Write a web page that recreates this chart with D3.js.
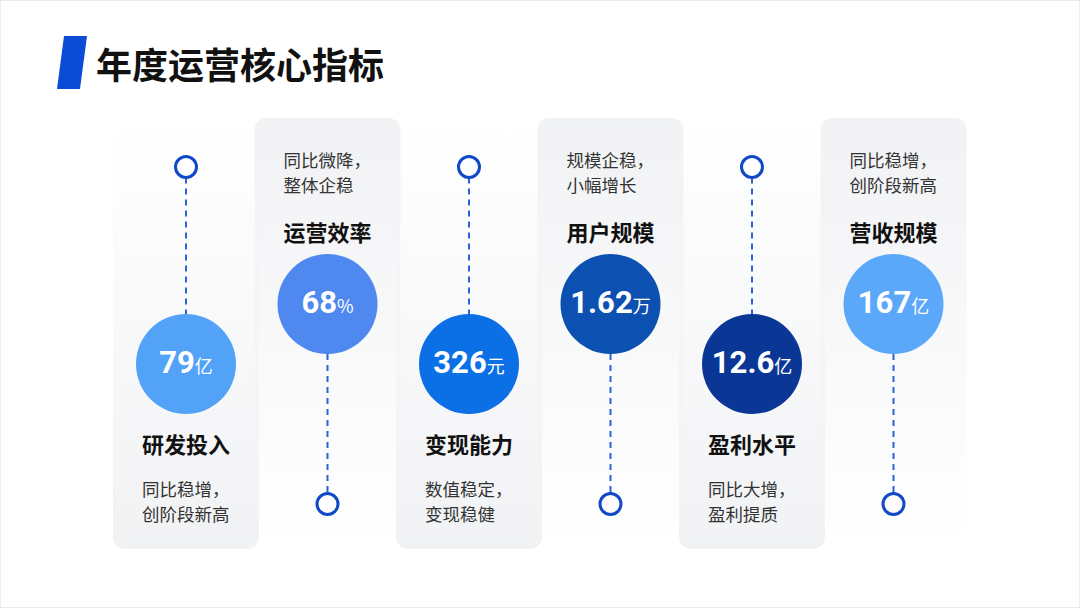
<!DOCTYPE html>
<html>

<head>
    <meta charset="utf-8">
    <title>年度运营核心指标</title>
    <script src="https://cdn.jsdelivr.net/npm/d3@7/dist/d3.min.js"></script>
    <style>
        body { margin: 0; background: #fff; }
        svg { display: block; font-family: "Noto Sans CJK SC", "Noto Sans", sans-serif; }
    </style>
</head>

<body>
    <svg width="1080" height="608" id="mainsvg"></svg>
    <script>
        // ---- data ----
        const names = ['研发投入', '运营效率', '变现能力', '用户规模', '盈利水平', '营收规模'];
        const values = ['79', '68', '326', '1.62', '12.6', '167'];
        const units = ['亿', '%', '元', '万', '亿', '亿'];
        const notes = [
            ['同比稳增，', '创阶段新高'],
            ['同比微降，', '整体企稳'],
            ['数值稳定，', '变现稳健'],
            ['规模企稳，', '小幅增长'],
            ['同比大增，', '盈利提质'],
            ['同比稳增，', '创阶段新高']
        ];

        const svg = d3.select('svg');
        const width = +svg.attr('width');
        const height = +svg.attr('height');

        const palette = ['#52a2f8', '#4f88ef', '#0b6fe6', '#0c50b1', '#0a3796', '#5ba8fa'];
        const color = d3.scaleOrdinal().domain(names).range(palette);
        const xScale = d3.scalePoint().domain(names).range([186, 893.5]);

        const cardW = 146, cardTop = 118, cardBottom = 549;
        const r = 50, ringR = 10.5;
        const lineColor = '#2c62d8';

        // two vertical arrangements: circle low (even index) / circle high (odd index)
        const layout = [
            { ring: 167, cy: 364, name: 443, note: 488 },
            { ring: 504, cy: 304, name: 231, note: 159 }
        ];

        const defs = svg.append('defs');
        [['cardUp', 0, 1], ['cardDown', 1, 0]].forEach(([id, o0, o1]) => {
            const g = defs.append('linearGradient').attr('id', id)
                .attr('x1', 0).attr('y1', 0).attr('x2', 0).attr('y2', 1);
            g.append('stop').attr('offset', '0%').attr('stop-color', '#f1f2f4').attr('stop-opacity', o0);
            g.append('stop').attr('offset', '100%').attr('stop-color', '#f1f2f4').attr('stop-opacity', o1);
        });

        svg.append('rect')
            .attr('x', 0.5).attr('y', 0.5)
            .attr('width', width - 1).attr('height', height - 1)
            .attr('fill', '#fff').attr('stroke', '#ececec');

        // title
        svg.append('polygon')
            .attr('points', '64,36 87,36 80,89 57,89')
            .attr('fill', '#0a4cd6');
        svg.append('text')
            .attr('x', 96).attr('y', 63)
            .attr('dominant-baseline', 'central')
            .attr('font-size', 36).attr('font-weight', 'bold')
            .attr('fill', '#111')
            .text('年度运营核心指标');

        const items = names.map((n, i) => ({ name: n, value: values[i], unit: units[i], note: notes[i], i }));

        const cols = svg.append('g').attr('id', 'cols')
            .selectAll('g').data(items).join('g')
            .attr('transform', d => `translate(${xScale(d.name)}, 0)`);

        cols.append('rect')
            .attr('x', -cardW / 2).attr('y', cardTop)
            .attr('width', cardW).attr('height', cardBottom - cardTop)
            .attr('rx', 12)
            .attr('fill', d => d.i % 2 ? 'url(#cardDown)' : 'url(#cardUp)');

        // dashed connector
        cols.append('line')
            .attr('x1', 0).attr('x2', 0)
            .attr('y1', d => { const L = layout[d.i % 2]; return d.i % 2 ? L.cy + r : L.ring + ringR; })
            .attr('y2', d => { const L = layout[d.i % 2]; return d.i % 2 ? L.ring - ringR : L.cy - r; })
            .attr('stroke', lineColor).attr('stroke-width', 2)
            .attr('stroke-dasharray', '6,5');

        cols.append('circle')
            .attr('cy', d => layout[d.i % 2].ring)
            .attr('r', ringR)
            .attr('fill', '#fff')
            .attr('stroke', '#1049c8').attr('stroke-width', 3);

        cols.append('circle')
            .attr('cy', d => layout[d.i % 2].cy)
            .attr('r', r)
            .attr('fill', d => color(d.name));

        const val = cols.append('text')
            .attr('y', d => layout[d.i % 2].cy + 9)
            .attr('text-anchor', 'middle')
            .attr('fill', '#fff');
        val.append('tspan')
            .attr('font-family', 'Roboto, "Noto Sans", sans-serif')
            .attr('font-size', 31).attr('font-weight', 'bold')
            .text(d => d.value);
        val.append('tspan')
            .attr('font-size', 18)
            .text(d => d.unit);

        cols.append('text')
            .attr('x', -44)
            .attr('y', d => layout[d.i % 2].name)
            .attr('dominant-baseline', 'central')
            .attr('font-size', 22).attr('font-weight', 'bold')
            .attr('fill', '#111')
            .text(d => d.name);

        cols.each(function (d) {
            d3.select(this).selectAll('.note').data(d.note).join('text')
                .attr('class', 'note')
                .attr('x', -44)
                .attr('y', (t, k) => layout[d.i % 2].note + k * 25)
                .attr('dominant-baseline', 'central')
                .attr('font-size', 17.5)
                .attr('fill', '#333')
                .text(t => t);
        });
    </script>
</body>

</html>
